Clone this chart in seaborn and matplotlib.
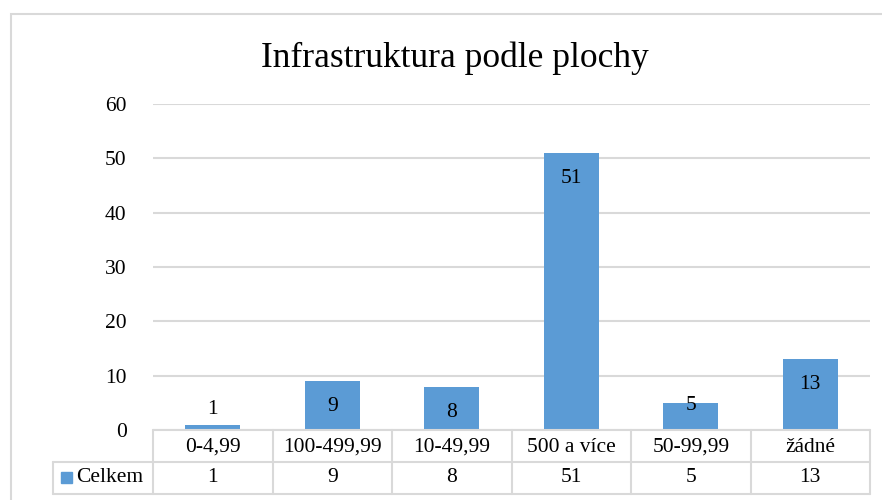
import matplotlib
matplotlib.use('Agg')
import matplotlib.pyplot as plt
import matplotlib.transforms as mtransforms
from matplotlib.patches import Rectangle
import seaborn as sns

# --------------------------------------------------
# Data
# --------------------------------------------------
categories = ['0-4,99', '100-499,99', '10-49,99', '500 a více', '50-99,99', 'žádné']
values = [1, 9, 8, 51, 5, 13]
series_name = 'Celkem'
title = 'Infrastruktura podle plochy'
yticks = [0, 10, 20, 30, 40, 50, 60]

bar_color = '#5B9BD5'
grid_color = '#D9D9D9'

sns.set_style('white', {'text.color': 'black', 'ytick.color': 'black',
                        'xtick.color': 'black'})
plt.rcParams['font.family'] = ['Liberation Serif', 'DejaVu Serif']

W, H = 882, 500
fig = plt.figure(figsize=(W / 100, H / 100), dpi=100)
ax = fig.add_axes([153 / W, (H - 430) / H, (870 - 153) / W, (430 - 104) / H])

sns.barplot(x=categories, y=values, color=bar_color, width=0.46, ax=ax,
            saturation=1, edgecolor='none')

ax.set_ylim(0, 60)
ax.set_xlim(-0.5, len(categories) - 0.5)
ax.set_yticks(yticks)
ax.set_yticklabels([str(t) for t in yticks], fontsize=15.5, color='black')
ax.tick_params(axis='y', length=0, pad=19)
ax.set_xticks([])
ax.set_xlabel('')
ax.set_ylabel('')
ax.yaxis.grid(True, color=grid_color, linewidth=1.5)
ax.set_axisbelow(True)
for s in ax.spines.values():
    s.set_visible(False)

# px -> points
pt = 72 / 100

# Bar labels (Excel "inside end", pushed out when the bar is too short)
for i, v in enumerate(values):
    h_px = v * 326 / 60
    if h_px >= 40:
        ax.annotate(str(v), xy=(i, v), xytext=(0, -16 * pt), textcoords='offset points',
                    ha='center', va='top', fontsize=15.5, color='black')
    elif h_px >= 20:
        ax.annotate(str(v), xy=(i, v), xytext=(0, -3 * pt), textcoords='offset points',
                    ha='center', va='center', fontsize=15.5, color='black')
    else:
        ax.annotate(str(v), xy=(i, v), xytext=(0, 6 * pt), textcoords='offset points',
                    ha='center', va='bottom', fontsize=15.5, color='black')

# --------------------------------------------------
# Data table below the plot
# --------------------------------------------------
trans = mtransforms.blended_transform_factory(ax.transData, ax.transAxes)
ax_h = 326
r1 = -(462 - 430) / ax_h
r2 = -(494 - 430) / ax_h
x_left = -0.5 - (153 - 53) / 119.5
n = len(categories)
lw = 1.5

def tline(xs, ys):
    ax.plot(xs, ys, color=grid_color, linewidth=lw, transform=trans, clip_on=False)

tline([-0.5, n - 0.5], [0, 0])
tline([x_left, n - 0.5], [r1, r1])
tline([x_left, n - 0.5], [r2, r2])
tline([x_left, x_left], [r1, r2])
for k in range(n + 1):
    tline([k - 0.5, k - 0.5], [0, r2])

for i, (c, v) in enumerate(zip(categories, values)):
    ax.text(i, r1 / 2 - 0.004, c, transform=trans, ha='center', va='center',
            fontsize=15.5, color='black')
    ax.text(i, (r1 + r2) / 2, str(v), transform=trans, ha='center', va='center',
            fontsize=15.5, color='black')

# legend key + series name
fig.patches.append(Rectangle((61 / W, (H - 483) / H), 11 / W, 11 / H,
                             transform=fig.transFigure, color=bar_color))
fig.text(76 / W, (H - 478) / H, series_name, ha='left', va='center',
         fontsize=15.5, color='black')

# Title
fig.text(455 / W, (H - 58) / H, title, ha='center', va='center',
         fontsize=25.5, color='black')

# Outer chart frame
fig.patches.append(Rectangle((11 / W, -0.05), 1.0, (H - 14) / H + 0.05,
                             transform=fig.transFigure, fill=False,
                             edgecolor=grid_color, linewidth=1.5))

fig.savefig('out.png', dpi=100)
